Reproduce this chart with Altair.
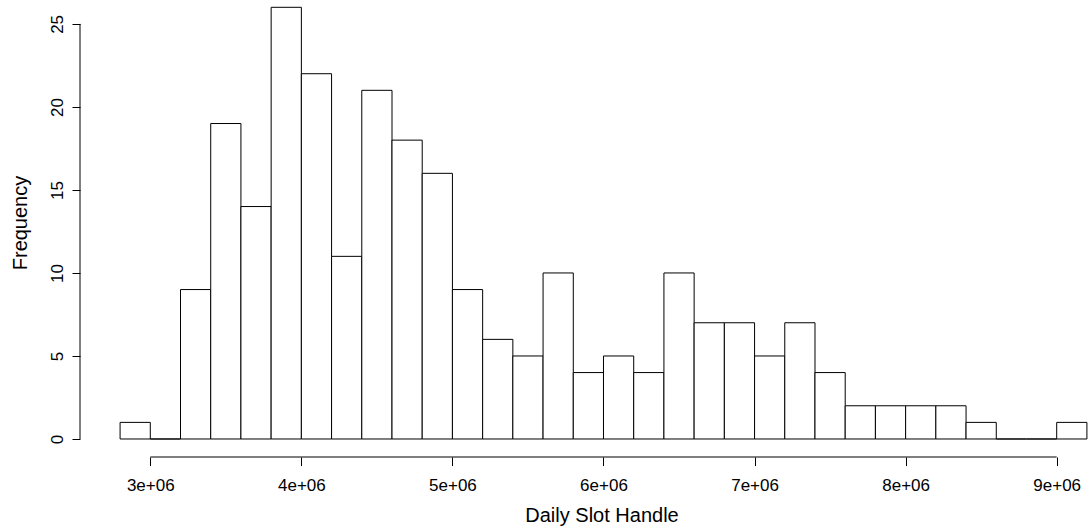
import altair as alt
import pandas as pd

# Histogram of daily slot handle (bins of width 200,000)
bin_starts = [2.8e6 + i * 2e5 for i in range(32)]
counts = [1, 0, 9, 19, 14, 26, 22, 11, 21, 18, 16, 9, 6, 5, 10, 4,
          5, 4, 10, 7, 7, 5, 7, 4, 2, 2, 2, 2, 1, 0, 0, 1]
x_ticks = [3e6, 4e6, 5e6, 6e6, 7e6, 8e6, 9e6]
x_tick_labels = ["3e+06", "4e+06", "5e+06", "6e+06", "7e+06", "8e+06", "9e+06"]
y_ticks = [0, 5, 10, 15, 20, 25]

df = pd.DataFrame({
    "start": bin_starts,
    "end": [s + 2e5 for s in bin_starts],
    "count": counts,
    "zero": [0] * len(counts),
})

W, H = 1008, 457
FONT = "Liberation Sans"

xscale = alt.Scale(domain=[2.5347e6, 9.2072e6], nice=False, zero=False)
yscale = alt.Scale(domain=[-1.085, 26.44], nice=False, zero=False)

label_map = "{" + ",".join(f"'{int(v)}':'{l}'" for v, l in zip(x_ticks, x_tick_labels)) + "}"

bars = alt.Chart(df).mark_rect(fill="white", stroke="black", strokeWidth=1).encode(
    x=alt.X("start:Q", scale=xscale, axis=alt.Axis(
        values=x_ticks, labelExpr=f"{label_map}[''+datum.value]", grid=False, domain=False,
        tickSize=8.6, tickColor="black", tickWidth=1, labelFontSize=17, labelFont=FONT,
        labelColor="black", labelBaseline="alphabetic", labelPadding=24.7,
        title="Daily Slot Handle", titleFontSize=20, titleFont=FONT, titleFontWeight="normal",
        titleColor="black", titleX=521.5, titleY=64.5, titleBaseline="alphabetic",
        titleAlign="center", labelFlush=False, labelOverlap=False)),
    x2="end:Q",
    y=alt.Y("zero:Q", scale=yscale, axis=alt.Axis(
        values=y_ticks, grid=False, domain=False, tickSize=8, tickColor="black", tickWidth=1,
        labelFontSize=17, labelFont=FONT, labelColor="black", labelAngle=270,
        labelAlign="center", labelBaseline="alphabetic", labelPadding=9.5,
        labelFlush=False, labelOverlap=False,
        title="Frequency", titleFontSize=20, titleFont=FONT, titleFontWeight="normal",
        titleColor="black", titleAngle=270, titleX=-53.5, titleY=222.5,
        titleBaseline="alphabetic", titleAlign="center")),
    y2="count:Q",
)

axis_lines = pd.DataFrame({"x1": [x_ticks[0]], "x2": [x_ticks[-1]],
                           "y1": [y_ticks[0]], "y2": [y_ticks[-1]]})

x_line = alt.Chart(axis_lines).mark_rule(color="black", strokeWidth=1).encode(
    x=alt.X("x1:Q", scale=xscale), x2="x2:Q", y=alt.value(H))
y_line = alt.Chart(axis_lines).mark_rule(color="black", strokeWidth=1).encode(
    y=alt.Y("y1:Q", scale=yscale), y2="y2:Q", x=alt.value(0))

chart = alt.layer(bars, x_line, y_line).properties(
    width=W, height=H,
    autosize=alt.AutoSizeParams(type="none"),
    padding={"left": 80, "top": 0, "right": 0, "bottom": 72},
    background="white",
).configure_view(stroke=None)

chart.save("out.html", embed_options={"renderer": "svg", "actions": False})
